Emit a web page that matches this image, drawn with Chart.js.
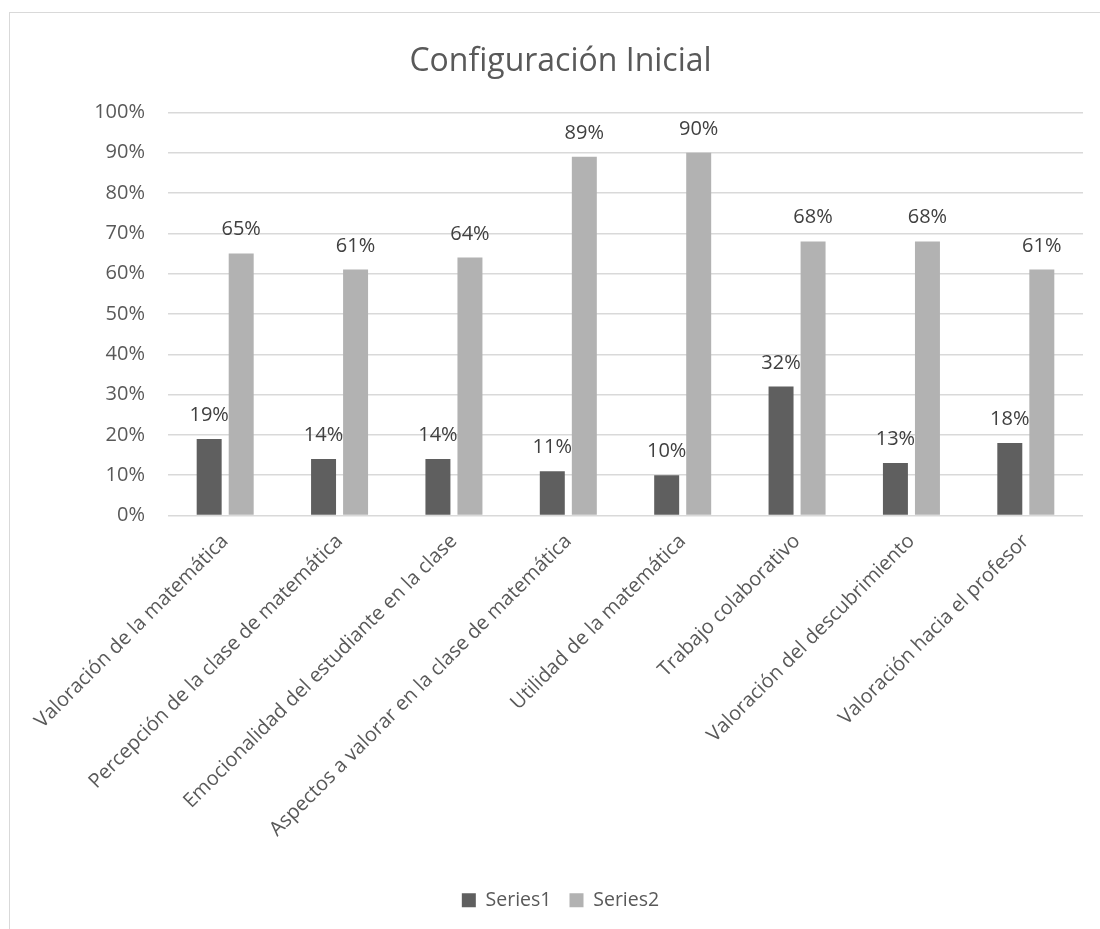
<!DOCTYPE html>
<html>
<head>
<meta charset="utf-8">
<script src="https://cdn.jsdelivr.net/npm/chart.js@4/dist/chart.umd.min.js"></script>
<style>
  html, body { margin: 0; padding: 0; background: #fff; overflow: hidden; }
  #frame { position: absolute; left: 9px; top: 12px; width: 1300px; height: 1100px; border: 1.5px solid #d9d9d9; }
  #wrap { position: absolute; left: 0; top: 0; width: 1100px; height: 929px; }
</style>
</head>
<body>
<div id="frame"></div>
<div id="wrap"><canvas id="chart" width="1100" height="929"></canvas></div>
<script>
// categories and values
const categories = [
  "Valoración de la matemática",
  "Percepción de la clase de matemática",
  "Emocionalidad del estudiante en la clase",
  "Aspectos a valorar en la clase de matemática",
  "Utilidad de la matemática",
  "Trabajo colaborativo",
  "Valoración del descubrimiento",
  "Valoración hacia el profesor"
];
const series1 = [19, 14, 14, 11, 10, 32, 13, 18];
const series2 = [65, 61, 64, 89, 90, 68, 68, 61];
const yTicks = [0, 10, 20, 30, 40, 50, 60, 70, 80, 90, 100];

const FONT = "'Open Sans', sans-serif";
const textGray = '#595959';

// value labels above each bar
const barLabels = {
  id: 'barLabels',
  afterDatasetsDraw(chart) {
    const ctx = chart.ctx;
    ctx.save();
    ctx.font = '20px ' + FONT;
    ctx.fillStyle = '#404040';
    ctx.textAlign = 'center';
    ctx.textBaseline = 'alphabetic';
    chart.data.datasets.forEach((ds, i) => {
      chart.getDatasetMeta(i).data.forEach((bar, j) => {
        ctx.fillText(ds.data[j] + '%', bar.x, bar.y - 18);
      });
    });
    ctx.restore();
  }
};

new Chart(document.getElementById('chart'), {
  type: 'bar',
  data: {
    labels: categories,
    datasets: [
      { label: 'Series1', data: series1, backgroundColor: '#5f5f5f' },
      { label: 'Series2', data: series2, backgroundColor: '#b2b2b2' }
    ]
  },
  options: {
    responsive: false,
    animation: false,
    layout: { padding: { left: 38, right: 17, top: 0, bottom: 9 } },
    datasets: { bar: { categoryPercentage: 0.56, barPercentage: 0.78 } },
    plugins: {
      title: {
        display: true,
        text: 'Configuración Inicial',
        color: textGray,
        font: { family: FONT, size: 32, weight: 'normal' },
        padding: { top: 43, bottom: 31 }
      },
      legend: {
        position: 'bottom',
        labels: {
          color: textGray,
          font: { family: FONT, size: 19.5 },
          boxWidth: 14,
          boxHeight: 14,
          padding: 18
        }
      },
      tooltip: { enabled: false }
    },
    scales: {
      x: {
        grid: { display: false },
        border: { display: false },
        ticks: {
          color: textGray,
          font: { family: FONT, size: 20 },
          minRotation: 45,
          maxRotation: 45,
          padding: 6
        },
        afterFit(s) { s.height = 357; }
      },
      y: {
        min: 0,
        max: 100,
        afterBuildTicks(s) { s.ticks = yTicks.map(v => ({ value: v })); },
        grid: { color: '#d9d9d9', lineWidth: 1.5, drawTicks: false },
        border: { display: false },
        ticks: {
          color: textGray,
          font: { family: FONT, size: 20 },
          padding: 23,
          callback: v => v + '%'
        },
        afterFit(s) { s.width = 130; }
      }
    }
  },
  plugins: [barLabels]
});
</script>
</body>
</html>
